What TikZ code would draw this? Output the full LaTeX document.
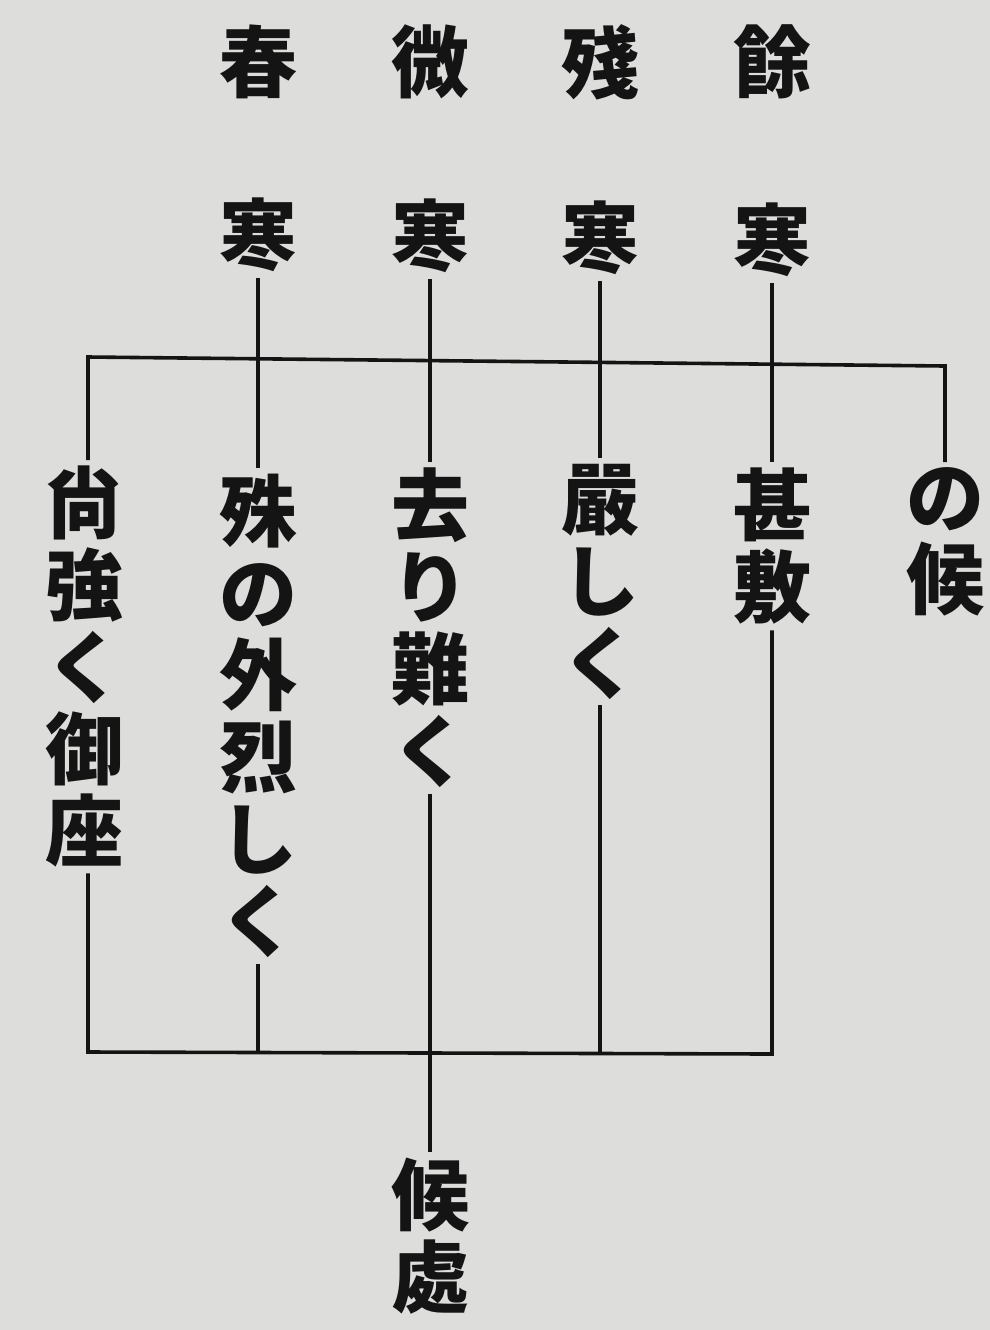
\documentclass[tikz,border=0pt]{standalone}
\usepackage{fontspec}
\newfontfamily\jp{Noto Sans CJK JP}
\definecolor{paper}{RGB}{221,221,219}
\definecolor{ink}{RGB}{20,20,20}
\begin{document}
\begin{tikzpicture}[x=0.5pt,y=-0.5pt,
  txt/.style={font=\jp\bfseries\fontsize{39}{41}\selectfont, align=center, inner sep=0pt, outer sep=3pt, text=ink},
  ln/.style={draw=ink, line width=1.8pt}]
\fill[paper] (0,0) rectangle (990,1330);
\useasboundingbox (0,0) rectangle (990,1330);
% top characters
\node[txt] (t1) at (258,62) {春};
\node[txt] (t2) at (430,62) {微};
\node[txt] (t3) at (600,62) {殘};
\node[txt] (t4) at (772,62) {餘};
\node[txt] (k1) at (258,235) {寒};
\node[txt] (k2) at (430,236) {寒};
\node[txt] (k3) at (600,238) {寒};
\node[txt] (k4) at (772,240) {寒};
% columns
\node[txt, anchor=north] (c1) at (85,460) {尙\\強\\く\\御\\座};
\node[txt, anchor=north] (c2) at (258,468) {殊\\の\\外\\烈\\し\\く};
\node[txt, anchor=north] (c3) at (430,462) {去\\り\\難\\く};
\node[txt, anchor=north] (c4) at (600,458) {嚴\\し\\く};
\node[txt, anchor=north] (c5) at (772,462) {甚\\敷};
\node[txt, anchor=north] (c6) at (945,462) {の\\候};
\node[txt, anchor=north] (e) at (430,1152) {候\\處};
% frame coordinates
\coordinate (tl) at (88,357);
\coordinate (tr) at (945,366);
\coordinate (bl) at (88,1052);
\coordinate (br) at (772,1054);
% connectors
\draw[ln] (c1.north -| tl) -- (tl) -- (tr) -- (c6.north -| tr);
\draw[ln] (c1.south -| bl) -- (bl) -- (br) -- (c5.south);
\draw[ln] (k1.south) -- (c2.north);
\draw[ln] (k2.south) -- (c3.north);
\draw[ln] (k3.south) -- (c4.north);
\draw[ln] (k4.south) -- (c5.north);
\draw[ln] (c2.south) -- (c2.south |- bl);
\draw[ln] (c3.south) -- (e.north);
\draw[ln] (c4.south) -- (c4.south |- bl);
\end{tikzpicture}
\end{document}
